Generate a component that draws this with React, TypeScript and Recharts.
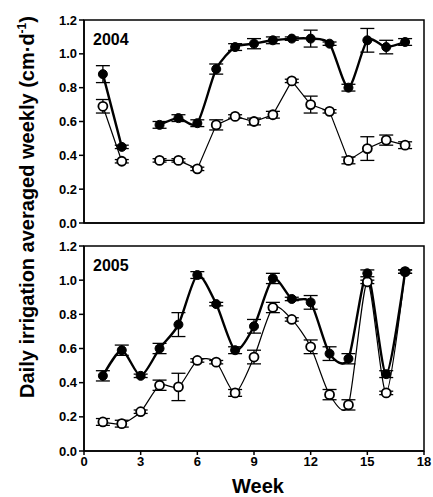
import {
  ErrorBar,
  Line,
  LineChart,
  ReferenceArea,
  XAxis,
  YAxis,
} from 'recharts';

const WEEKS = [1, 2, 3, 4, 5, 6, 7, 8, 9, 10, 11, 12, 13, 14, 15, 16, 17];
const X_TICKS = [0, 3, 6, 9, 12, 15, 18];
const Y_TICKS = [0, 0.2, 0.4, 0.6, 0.8, 1.0, 1.2];

// 2004 (no reading for week 3)
const FILLED_2004 = [0.88, 0.45, null, 0.58, 0.62, 0.59, 0.91, 1.04, 1.06, 1.08, 1.09, 1.09, 1.06, 0.8, 1.08, 1.04, 1.07];
const FILLED_2004_ERR = [0.05, 0.01, 0, 0.02, 0.02, 0.02, 0.03, 0.02, 0.03, 0.02, 0.01, 0.05, 0.01, 0.02, 0.07, 0.04, 0.02];
const OPEN_2004 = [0.69, 0.365, null, 0.37, 0.37, 0.32, 0.58, 0.63, 0.6, 0.64, 0.84, 0.7, 0.66, 0.37, 0.44, 0.49, 0.46];
const OPEN_2004_ERR = [0.04, 0.01, 0, 0.01, 0.01, 0.01, 0.03, 0.01, 0.02, 0.02, 0.01, 0.05, 0.01, 0.02, 0.07, 0.03, 0.02];

// 2005
const FILLED_2005 = [0.44, 0.59, 0.44, 0.6, 0.74, 1.03, 0.86, 0.59, 0.73, 1.01, 0.89, 0.87, 0.57, 0.54, 1.04, 0.45, 1.05];
const FILLED_2005_ERR = [0.03, 0.03, 0.01, 0.03, 0.07, 0.02, 0.01, 0.02, 0.04, 0.03, 0.01, 0.04, 0.04, 0.03, 0.02, 0.02, 0.01];
const OPEN_2005 = [0.17, 0.16, 0.23, 0.385, 0.375, 0.53, 0.52, 0.34, 0.55, 0.84, 0.77, 0.61, 0.33, 0.27, 0.99, 0.34, 1.05];
const OPEN_2005_ERR = [0.02, 0.02, 0.01, 0.03, 0.08, 0.01, 0.01, 0.02, 0.04, 0.03, 0.01, 0.04, 0.03, 0.03, 0.01, 0.01, 0.01];

const FONT = '"Liberation Sans", Arial, sans-serif';

type Row = { week: number; filled: number | null; filledErr: number; open: number | null; openErr: number };

function build(filled: (number | null)[], fErr: number[], open: (number | null)[], oErr: number[]): Row[] {
  return WEEKS.map((w, i) => ({
    week: w,
    filled: filled[i],
    filledErr: fErr[i],
    open: open[i],
    openErr: oErr[i],
  }));
}

const data2004 = build(FILLED_2004, FILLED_2004_ERR, OPEN_2004, OPEN_2004_ERR);
const data2005 = build(FILLED_2005, FILLED_2005_ERR, OPEN_2005, OPEN_2005_ERR);

// cardinal spline (same shape as d3's curveCardinal), for the smoothed lines
function cardinal(tension: number) {
  const k = (1 - tension) / 6;
  return (ctx: any) => {
    let x0 = NaN, x1 = NaN, x2 = NaN, y0 = NaN, y1 = NaN, y2 = NaN;
    let pt = 0;
    let line: number = NaN;
    const seg = (x: number, y: number) => {
      ctx.bezierCurveTo(x1 + k * (x2 - x0), y1 + k * (y2 - y0), x2 + k * (x1 - x), y2 + k * (y1 - y), x2, y2);
    };
    return {
      areaStart() { line = 0; },
      areaEnd() { line = NaN; },
      lineStart() {
        x0 = x1 = x2 = y0 = y1 = y2 = NaN;
        pt = 0;
      },
      lineEnd() {
        if (pt === 2) ctx.lineTo(x2, y2);
        else if (pt === 3) seg(x1, y1);
        if (line || (line !== 0 && pt === 1)) ctx.closePath();
        line = 1 - line;
      },
      point(x: number, y: number) {
        x = +x; y = +y;
        if (pt === 0) {
          pt = 1;
          if (line) ctx.lineTo(x, y);
          else ctx.moveTo(x, y);
        } else if (pt === 1) {
          pt = 2;
          x1 = x; y1 = y;
        } else {
          pt = 3;
          seg(x, y);
        }
        x0 = x1; x1 = x2; x2 = x;
        y0 = y1; y1 = y2; y2 = y;
      },
    };
  };
}

const SMOOTH = cardinal(0.25);

interface PanelProps {
  data: Row[];
  year: string;
  top: number;
  height: number;
  marginBottom: number;
  xHeight: number;
  showXLabels: boolean;
  filledCurve: any;
  openCurve: any;
}

function Panel({ data, year, top, height, marginBottom, xHeight, showXLabels, filledCurve, openCurve }: PanelProps) {
  return (
    <div style={{ position: 'absolute', left: 0, top }}>
      <LineChart
        width={433}
        height={height}
        data={data}
        margin={{ top: 20, right: 9, bottom: marginBottom, left: 0 }}
      >
        <XAxis
          dataKey="week"
          type="number"
          domain={[0, 18]}
          ticks={X_TICKS}
          height={xHeight}
          stroke="#000"
          strokeWidth={1.5}
          tickSize={4}
          tick={showXLabels ? { fontSize: 13, fontWeight: 700, fill: '#000', fontFamily: FONT } : false}
        />
        <YAxis
          type="number"
          domain={[0, 1.2]}
          ticks={Y_TICKS}
          width={84}
          stroke="#000"
          strokeWidth={1.5}
          tickSize={5}
          tickFormatter={(v: number) => v.toFixed(1)}
          tick={{ fontSize: 13, fontWeight: 700, fill: '#000', fontFamily: FONT }}
        />
        <ReferenceArea x1={0} x2={18} y1={0} y2={1.2} fill="none" stroke="#000" strokeWidth={1.5} />
        <Line
          dataKey="open"
          type={openCurve}
          stroke="#000"
          strokeWidth={1.2}
          dot={{ r: 4.5, fill: '#fff', stroke: '#000', strokeWidth: 1.8 }}
          activeDot={false}
          isAnimationActive={false}
        >
          <ErrorBar dataKey="openErr" direction="y" width={7} stroke="#000" strokeWidth={1.3} />
        </Line>
        <Line
          dataKey="filled"
          type={filledCurve}
          stroke="#000"
          strokeWidth={2.4}
          dot={{ r: 4.5, fill: '#000', stroke: '#000', strokeWidth: 1 }}
          activeDot={false}
          isAnimationActive={false}
        >
          <ErrorBar dataKey="filledErr" direction="y" width={7} stroke="#000" strokeWidth={1.3} />
        </Line>
      </LineChart>
      <div
        style={{
          position: 'absolute',
          left: 93,
          top: 31,
          fontFamily: FONT,
          fontWeight: 700,
          fontSize: 16,
          color: '#000',
        }}
      >
        {year}
      </div>
    </div>
  );
}

export default function App() {
  return (
    <div
      style={{
        position: 'absolute',
        left: 0,
        top: 0,
        width: 433,
        height: 497,
        background: '#fff',
        overflow: 'hidden',
      }}
    >
      <Panel
        data={data2004}
        year="2004"
        top={0}
        height={240}
        marginBottom={12}
        xHeight={5}
        showXLabels={false}
        filledCurve={SMOOTH}
        openCurve="linear"
      />
      <Panel
        data={data2005}
        year="2005"
        top={226}
        height={250}
        marginBottom={5}
        xHeight={20}
        showXLabels
        filledCurve={SMOOTH}
        openCurve={SMOOTH}
      />
      <div
        style={{
          position: 'absolute',
          left: 27,
          top: 207,
          transform: 'translate(-50%, -50%) rotate(-90deg)',
          whiteSpace: 'nowrap',
          fontFamily: FONT,
          fontWeight: 700,
          fontSize: 20,
          color: '#000',
        }}
      >
        Daily irrigation averaged weekly (cm·d<sup style={{ fontSize: 12 }}>-1</sup>)
      </div>
      <div
        style={{
          position: 'absolute',
          left: 258,
          top: 486,
          transform: 'translate(-50%, -50%)',
          fontFamily: FONT,
          fontWeight: 700,
          fontSize: 20,
          color: '#000',
        }}
      >
        Week
      </div>
    </div>
  );
}
